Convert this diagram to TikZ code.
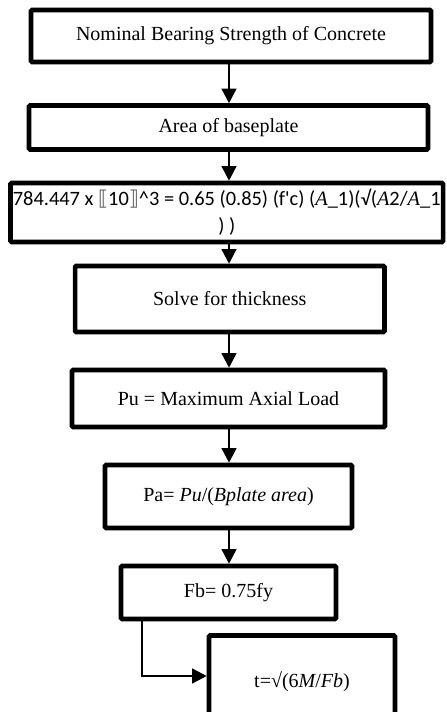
\documentclass[tikz,border=0pt]{standalone}
\usepackage{fontspec}
\setmainfont{Liberation Serif}
\newfontfamily\calib{Carlito}
\newfontfamily\djv{DejaVu Sans}
\usetikzlibrary{arrows.meta}

\begin{document}
\begin{tikzpicture}[x=0.75pt,y=-0.75pt,
  box/.style={draw, line width=3.4pt, inner sep=0pt, align=center,
    font=\fontsize{15}{18}\selectfont, rounded corners=0.8pt},
  conn/.style={line width=1.9pt, -{Triangle[length=11pt,width=11pt]}}]
\clip (0,0) rectangle (446,712);

% process boxes
\node[box, minimum width=300pt, minimum height=39pt] (b1) at (231,36)
  {Nominal Bearing Strength of Concrete};
\node[box, minimum width=299.25pt, minimum height=33pt] (b2) at (228.5,127.5)
  {Area of baseplate};
\node[box, minimum width=324.4pt, minimum height=44.25pt,
  font=\calib\fontsize{15.3}{20}\selectfont] (b3) at (226.75,212.5)
  {784.447 x {\djv\color{black!65}⟦}10{\djv\color{black!65}⟧}\textasciicircum 3 = 0.65 (0.85) (f'c) ({\rmfamily\itshape A}\textunderscore 1)(√({\rmfamily\itshape A}2/{\rmfamily\itshape A}\textunderscore 1\\ ) )};
\node[box, minimum width=232.1pt, minimum height=49.5pt] (b4) at (229.75,299)
  {Solve for thickness};
\node[box, minimum width=234.75pt, minimum height=42.75pt] (b5) at (228.5,398.5)
  {Pu = Maximum Axial Load};
\node[box, minimum width=185.25pt, minimum height=47.25pt] (b6) at (228.5,496.5)
  {Pa= {\itshape Pu}/({\itshape Bplate area})};
\node[box, minimum width=161.25pt, minimum height=39.75pt] (b7) at (228.5,592.5)
  {Fb= 0.75fy};
\node[box, minimum width=139.5pt, minimum height=69.75pt] (b8) at (302,682)
  {t=√(6{\itshape M}/{\itshape Fb})};

% connector guides
\coordinate (spine) at (229,0);
\coordinate (knee) at (142,676);

% connectors
\draw[conn] (b1.south -| spine) -- (b2.north -| spine);
\draw[conn] (b2.south -| spine) -- (b3.north -| spine);
\draw[conn] (b3.south -| spine) -- (b4.north -| spine);
\draw[conn] (b4.south -| spine) -- (b5.north -| spine);
\draw[conn] (b5.south -| spine) -- (b6.north -| spine);
\draw[conn] (b6.south -| spine) -- (b7.north -| spine);
\draw[conn] (b7.south -| knee) |- (b8.west |- knee);
\end{tikzpicture}
\end{document}
